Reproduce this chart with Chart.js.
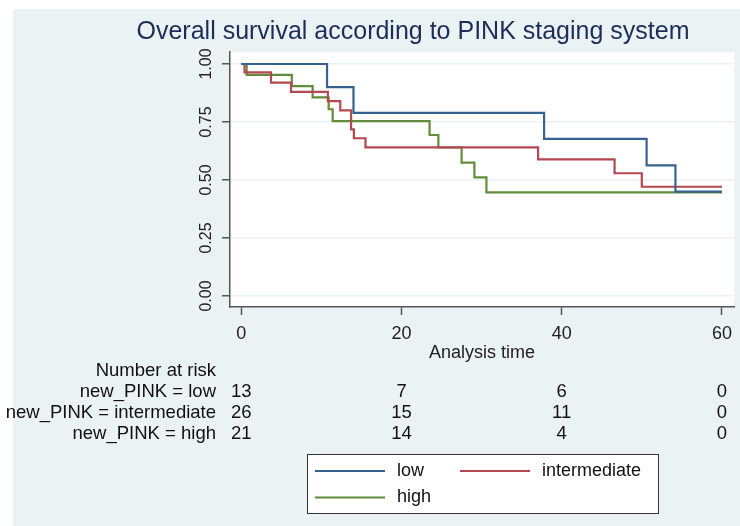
<!DOCTYPE html>
<html>
<head>
<meta charset="utf-8">
<script src="https://cdn.jsdelivr.net/npm/chart.js@4/dist/chart.umd.min.js"></script>
<style>
  html, body { margin: 0; padding: 0; background: #ffffff; }
  canvas { display: block; }
</style>
</head>
<body>
<canvas id="c" width="740" height="526"></canvas>
<script>
// ---- data ----
const seriesNames = ["low", "intermediate", "high"];
const lowTimes = [0, 10.7, 14.0, 37.8, 50.6, 54.2, 60];
const lowSurv  = [1, 0.90, 0.789, 0.677, 0.563, 0.45, 0.45];
const intTimes = [0, 0.4, 3.7, 6.2, 10.8, 12.35, 13.7, 14.05, 15.5, 37.05, 46.6, 50.0, 60];
const intSurv  = [1, 0.964, 0.92, 0.88, 0.84, 0.80, 0.718, 0.68, 0.641, 0.589, 0.529, 0.471, 0.471];
const highTimes = [0, 0.66, 6.3, 8.9, 10.9, 11.4, 23.5, 24.6, 27.5, 29.1, 30.6, 60];
const highSurv  = [1, 0.953, 0.905, 0.856, 0.805, 0.754, 0.694, 0.64, 0.575, 0.511, 0.447, 0.447];
const xTickValues = [0, 20, 40, 60];
const yTickValues = [0, 0.25, 0.5, 0.75, 1];
const yTickLabels = ["0.00", "0.25", "0.50", "0.75", "1.00"];
const riskTimes = [0, 20, 40, 60];
const riskLabels = ["new_PINK = low", "new_PINK = intermediate", "new_PINK = high"];
const riskLow = [13, 7, 6, 0];
const riskInt = [26, 15, 11, 0];
const riskHigh = [21, 14, 4, 0];
const titleText = "Overall survival according to PINK staging system";

const colors = ["#35628f", "#b4474f", "#618c3c"];
const FONT = "'Liberation Sans', Arial, Helvetica, sans-serif";
const BG = "#eaf2f3";

function pts(t, s) { return t.map((v, i) => ({x: v, y: s[i]})); }

const bgPlugin = {
  id: 'bg',
  beforeDraw(chart) {
    const ctx = chart.ctx, a = chart.chartArea;
    ctx.save();
    ctx.fillStyle = '#ffffff';
    ctx.fillRect(0, 0, chart.width, chart.height);
    ctx.fillStyle = BG;
    ctx.fillRect(13, 9, chart.width - 13, chart.height - 9);
    ctx.fillStyle = '#ffffff';
    ctx.fillRect(a.left, a.top, a.right - a.left, a.bottom - a.top);
    ctx.restore();
  },
  afterDraw(chart) {
    const ctx = chart.ctx, xs = chart.scales.x;
    ctx.save();
    // title
    ctx.fillStyle = '#1c2d5a';
    ctx.font = '25px ' + FONT;
    ctx.textAlign = 'center';
    ctx.textBaseline = 'middle';
    ctx.fillText(titleText, 413, 32);
    // risk table
    ctx.fillStyle = '#111111';
    ctx.font = '18.5px ' + FONT;
    ctx.textAlign = 'right';
    ctx.fillText("Number at risk", 216, 371);
    const rows = [riskLow, riskInt, riskHigh];
    const rowY = [392, 413, 434];
    rows.forEach((r, i) => {
      ctx.textAlign = 'right';
      ctx.fillText(riskLabels[i], 216, rowY[i]);
      ctx.textAlign = 'center';
      r.forEach((v, j) => ctx.fillText(String(v), xs.getPixelForValue(riskTimes[j]), rowY[i]));
    });
    // legend
    ctx.font = '18px ' + FONT;
    const bx = 307.5, by = 454.5, bw = 351, bh = 59;
    ctx.fillStyle = '#ffffff';
    ctx.fillRect(bx, by, bw, bh);
    ctx.strokeStyle = '#333333';
    ctx.lineWidth = 1;
    ctx.strokeRect(bx, by, bw, bh);
    const items = [
      {x: 315, y: 471, i: 0},
      {x: 460, y: 471, i: 1},
      {x: 315, y: 497.5, i: 2}
    ];
    items.forEach(it => {
      const ds = chart.data.datasets[it.i];
      ctx.strokeStyle = ds.borderColor;
      ctx.lineWidth = 2;
      ctx.beginPath();
      ctx.moveTo(it.x, it.y);
      ctx.lineTo(it.x + 70, it.y);
      ctx.stroke();
      ctx.fillStyle = '#111111';
      ctx.textAlign = 'left';
      ctx.fillText(ds.label, it.x + 82, it.y);
    });
    ctx.restore();
  }
};

new Chart(document.getElementById('c'), {
  type: 'line',
  data: {
    datasets: [
      {label: seriesNames[0], data: pts(lowTimes, lowSurv), borderColor: colors[0]},
      {label: seriesNames[1], data: pts(intTimes, intSurv), borderColor: colors[1]},
      {label: seriesNames[2], data: pts(highTimes, highSurv), borderColor: colors[2]}
    ].map(d => Object.assign(d, {stepped: true, borderWidth: 2.2, pointRadius: 0, fill: false}))
  },
  options: {
    responsive: false,
    animation: false,
    layout: {padding: {left: 130, right: 4, top: 52, bottom: 159}},
    plugins: {legend: {display: false}, title: {display: false}, tooltip: {enabled: false}},
    scales: {
      x: {
        type: 'linear',
        min: -1.418, max: 61.54,
        afterBuildTicks: s => { s.ticks = xTickValues.map(v => ({value: v})); },
        afterFit: s => { s.height = 60; },
        ticks: {color: '#222', font: {family: FONT, size: 18}, padding: 8, maxRotation: 0},
        grid: {drawOnChartArea: false, drawTicks: true, tickLength: 8, tickColor: '#555', tickWidth: 1.5},
        border: {display: true, color: '#555', width: 1.5},
        title: {display: true, text: 'Analysis time', color: '#222', font: {family: FONT, size: 18}, padding: {top: 0, bottom: 3}}
      },
      y: {
        type: 'linear',
        min: -0.0474, max: 1.0517,
        afterBuildTicks: s => { s.ticks = yTickValues.map(v => ({value: v})); },
        afterFit: s => { s.width = 100; },
        ticks: {
          color: '#222', font: {family: FONT, size: 16}, padding: 0,
          minRotation: 90, maxRotation: 90, crossAlign: 'center',
          callback: (v) => yTickLabels[yTickValues.indexOf(v)]
        },
        grid: {color: BG, lineWidth: 1.5, tickColor: '#555', tickWidth: 1.5, tickLength: 8},
        border: {display: true, color: '#555', width: 1.5}
      }
    }
  },
  plugins: [bgPlugin]
});
</script>
</body>
</html>
